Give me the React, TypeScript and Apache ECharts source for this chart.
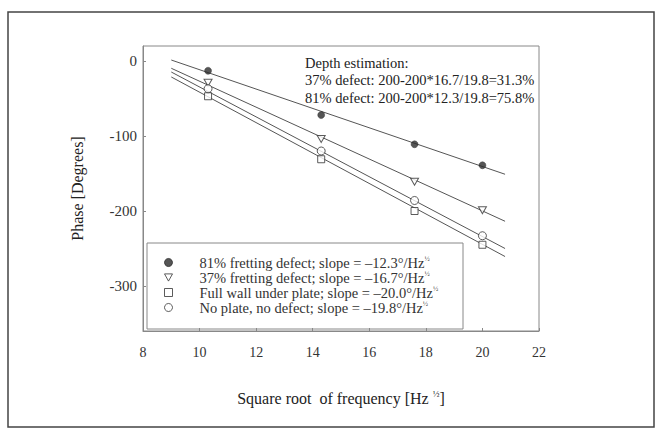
import React, { useEffect, useRef } from "react";
import * as echarts from "echarts";

// ---- data ----
const freqRoot = [10.3, 14.3, 17.6, 20.0];
const defect81 = [-13, -72, -111, -139];
const defect37 = [-29, -104, -161, -199];
const fullWall = [-47, -131, -200, -245];
const noPlate = [-37, -120, -186, -233];

const fitX = [9, 20.8];
const fit81 = [1.3, -151];
const fit37 = [-9.7, -213.7];
const fitFull = [-21.3, -260.7];
const fitNoPlate = [-14.7, -250];

const seriesNames = [
  "81% fretting defect; slope = –12.3°/Hz",
  "37% fretting defect; slope = –16.7°/Hz",
  "Full wall under plate; slope = –20.0°/Hz",
  "No plate, no defect; slope = –19.8°/Hz",
];

const xTicks = [8, 10, 12, 14, 16, 18, 20, 22];
const yTicks = [0, -100, -200, -300];

const annotationLines = [
  "Depth estimation:",
  "37% defect: 200-200*16.7/19.8=31.3%",
  "81% defect: 200-200*12.3/19.8=75.8%",
];

const FONT = '"Liberation Serif", "DejaVu Serif", serif';
const TRI = "path://M0,0L10,0L5,9Z";
const SQ = "path://M0,0L10,0L10,10L0,10Z";

const pair = (xs: number[], ys: number[]) => xs.map((x, i) => [x, ys[i]]);

export default function App() {
  const ref = useRef<HTMLDivElement>(null);
  useEffect(() => {
    if (!ref.current) return;
    const chart = echarts.init(ref.current, undefined, { renderer: "svg" });
    const markerStroke = "#333";
    const fitLine = (data: number[][]) => ({
      type: "line",
      data,
      symbol: "none",
      silent: true,
      z: 1,
      lineStyle: { color: "#555", width: 1 },
    });
    chart.setOption({
      animation: false,
      backgroundColor: "#fff",
      grid: {
        left: 143,
        right: 122,
        top: 46,
        bottom: 101,
        show: true,
        borderColor: "#888",
        borderWidth: 1,
        backgroundColor: "transparent",
      },
      xAxis: {
        type: "value",
        min: 8,
        max: 22,
        interval: 2,
        axisLine: { show: true, onZero: false, lineStyle: { color: "#888" } },
        axisTick: { show: true, inside: true, length: 3, lineStyle: { color: "#888" }, customValues: xTicks },
        splitLine: { show: false },
        axisLabel: {
          color: "#333",
          fontFamily: FONT,
          fontSize: 14,
          margin: 14,
          customValues: xTicks,
        },
        name: "Square root  of frequency [Hz {s|½}]",
        nameLocation: "middle",
        nameGap: 58,
        nameTextStyle: {
          color: "#222",
          fontFamily: FONT,
          fontSize: 16,
          rich: {
            s: { fontSize: 9, fontFamily: FONT, color: "#222", padding: [0, 0, 10, 0] },
          },
        },
      },
      yAxis: {
        type: "value",
        min: -360,
        max: 20,
        interval: 20,
        axisLine: { show: true, onZero: false, lineStyle: { color: "#888" } },
        axisTick: { show: true, inside: true, length: 3, lineStyle: { color: "#888" }, customValues: yTicks },
        splitLine: { show: false },
        axisLabel: {
          color: "#333",
          fontFamily: FONT,
          fontSize: 15,
          margin: 6,
          customValues: yTicks,
          formatter: (v: number) => (v % 100 === 0 ? String(v) : ""),
        },
        name: "Phase [Degrees]",
        nameLocation: "middle",
        nameGap: 58,
        nameTextStyle: { color: "#222", fontFamily: FONT, fontSize: 16 },
      },
      legend: {
        orient: "vertical",
        left: 164,
        top: 255,
        padding: 0,
        itemGap: 0,
        itemWidth: 8,
        itemHeight: 8,
        selectedMode: false,
        itemStyle: { borderWidth: 1 },
        data: [
          { name: seriesNames[0], icon: "circle" },
          { name: seriesNames[1], icon: TRI },
          { name: seriesNames[2], icon: SQ },
          { name: seriesNames[3], icon: "circle" },
        ],
        formatter: (n: string) => "{g|}" + n + "{s|½}",
        textStyle: {
          color: "#333",
          fontFamily: FONT,
          fontSize: 14.5,
          lineHeight: 15,
          rich: {
            g: { width: 22 },
            s: { fontSize: 7, fontFamily: FONT, color: "#333", padding: [0, 0, 8, 0] },
          },
        },
      },
      graphic: [
        {
          type: "rect",
          shape: { x: 8, y: 12, width: 646, height: 415 },
          style: { fill: "none", stroke: "#444", lineWidth: 1.5 },
          z: -10,
          silent: true,
        },
        {
          type: "rect",
          shape: { x: 147, y: 243, width: 316, height: 86 },
          style: { fill: "#fff", stroke: "#888", lineWidth: 1 },
          z: 0,
          silent: true,
        },
        {
          type: "text",
          left: 305,
          top: 54,
          z: 10,
          style: {
            text: annotationLines.join("\n"),
            fill: "#222",
            font: `14.5px ${FONT}`,
            lineHeight: 17.5,
          },
        },
      ],
      series: [
        fitLine(pair(fitX, fit81)),
        fitLine(pair(fitX, fit37)),
        fitLine(pair(fitX, fitFull)),
        fitLine(pair(fitX, fitNoPlate)),
        {
          type: "scatter",
          name: seriesNames[0],
          data: pair(freqRoot, defect81),
          symbol: "circle",
          symbolSize: 7,
          z: 5,
          itemStyle: { color: "#2a2a2a", borderColor: "#2a2a2a", borderWidth: 0.5 },
        },
        {
          type: "scatter",
          name: seriesNames[1],
          data: pair(freqRoot, defect37),
          symbol: TRI,
          symbolSize: [8, 7],
          z: 5,
          itemStyle: { color: "#fff", borderColor: markerStroke, borderWidth: 1 },
        },
        {
          type: "scatter",
          name: seriesNames[2],
          data: pair(freqRoot, fullWall),
          symbol: SQ,
          symbolSize: 7,
          z: 5,
          itemStyle: { color: "#fff", borderColor: markerStroke, borderWidth: 1 },
        },
        {
          type: "scatter",
          name: seriesNames[3],
          data: pair(freqRoot, noPlate),
          symbol: "circle",
          symbolSize: 8,
          z: 5,
          itemStyle: { color: "#fff", borderColor: markerStroke, borderWidth: 1 },
        },
      ],
    });
    return () => chart.dispose();
  }, []);
  return (
    <div
      ref={ref}
      style={{ position: "fixed", left: 0, top: 0, width: 661, height: 432, background: "#fff" }}
    />
  );
}
